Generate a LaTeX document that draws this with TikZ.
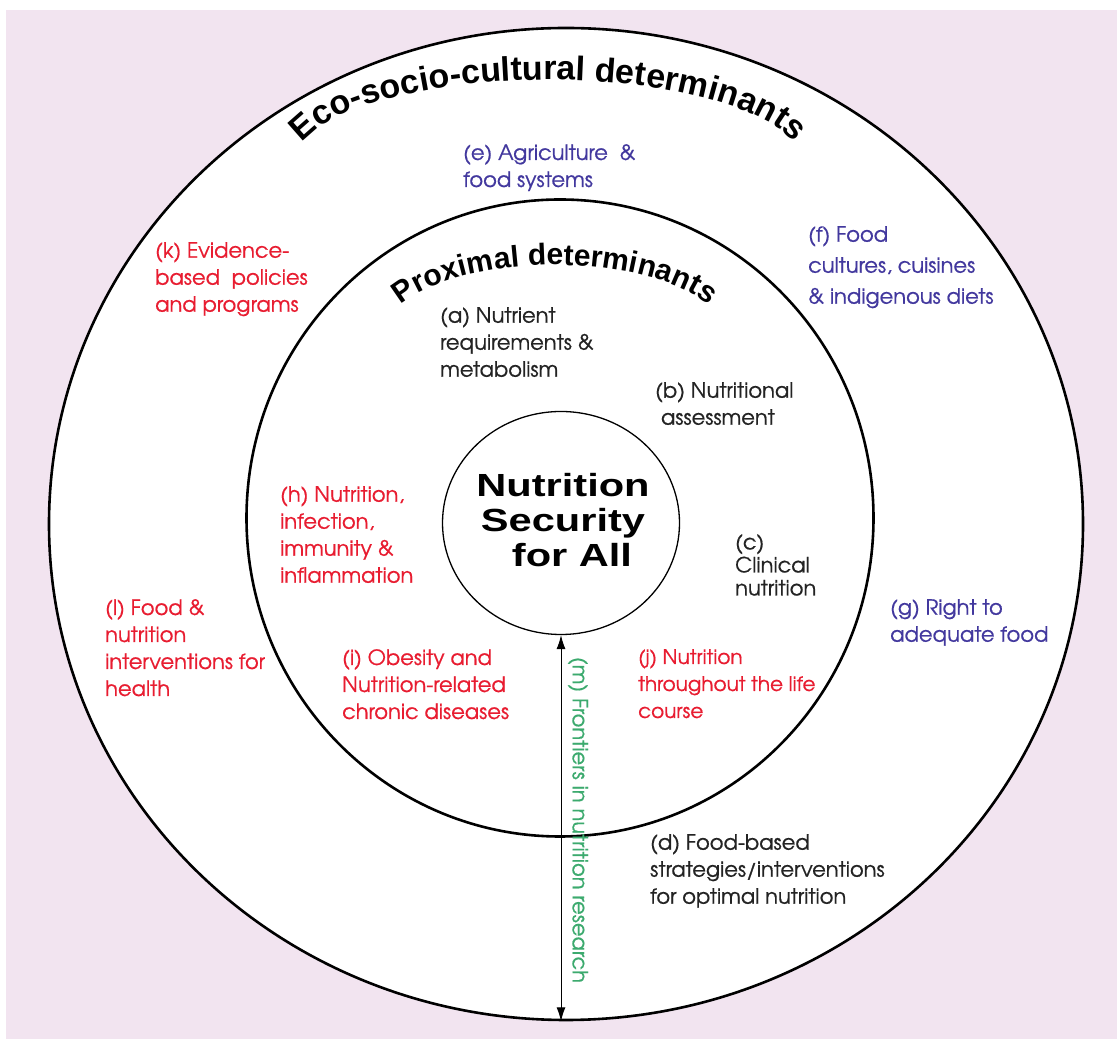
\documentclass[tikz,border=0pt]{standalone}
\usepackage{fontspec}
\usepackage{graphicx}
\setmainfont{TeX Gyre Adventor}[FakeBold=0.6]
\newfontfamily\arial{Liberation Sans}
\usetikzlibrary{shapes.geometric,decorations.text,arrows.meta}
\definecolor{bgpink}{RGB}{242,228,240}
\definecolor{lred}{RGB}{232,28,48}
\definecolor{lblue}{RGB}{66,56,158}
\definecolor{lblack}{RGB}{35,35,35}
\definecolor{lgreen}{RGB}{60,170,110}
\begin{document}
\begin{tikzpicture}[x=1pt,y=1pt,
  ring/.style={draw=black, fill=white, ellipse, inner sep=0pt, line width=2.6pt},
  lbl/.style={anchor=north west, align=left, inner sep=0pt, font=\fontsize{21}{27}\selectfont},
  redlbl/.style={lbl, text=lred},
  bluelbl/.style={lbl, text=lblue},
  blacklbl/.style={lbl, text=lblack},
  arctext/.style={decorate, decoration={text along path, text align=center,
     text format delimiters={|}{|}}}
]
\useasboundingbox (0,0) rectangle (1117,1039);
\fill[white] (0,0) rectangle (1117,1039);
\fill[bgpink] (6,0) rectangle (1117,1029);

% rings
\node[ring, minimum width=1034pt, minimum height=992pt] (outer) at (566,515) {};
\node[ring, minimum width=627pt, minimum height=637pt] (inner) at (560,521) {};
\node[draw=black, fill=white, ellipse, inner sep=0pt, line width=1.3pt,
      minimum width=237pt, minimum height=223pt] (core) at (561,516) {};

% curved titles
\path[arctext, decoration={text={|\arial\bfseries\fontsize{34}{34}\selectfont|Eco-socio-cultural determinants}}]
  (296.9,888.8) arc[start angle=170, end angle=10, x radius=255, y radius=85];
\path[arctext, decoration={text={|\arial\bfseries\fontsize{30}{30}\selectfont|Proximal determinants}}]
  (395,727.7) arc[start angle=160.2, end angle=19.8, x radius=170, y radius=70];

% centre
\node[font=\arial\bfseries\fontsize{32}{35}\selectfont, align=center, text=black] (title) at (563,519)
  {\scalebox{1.3}[1]{Nutrition}\\\scalebox{1.3}[1]{Security}\\\hspace*{18pt}\scalebox{1.3}[1]{for All}};

% labels
\node[bluelbl] (e) at (463,895) {(e) Agriculture\ \ \&\\food systems};
\node[bluelbl, font=\fontsize{21}{31}\selectfont] (f) at (808,813) {(f) Food\\cultures, cuisines\\\& indigenous diets};
\node[redlbl] (k) at (155,797) {(k) Evidence-\\based\ \ policies\\and programs};
\node[blacklbl] (a) at (440,732) {(a) Nutrient\\requirements \&\\metabolism};
\node[blacklbl] (b) at (655,657) {(b) Nutritional\\\ assessment};
\node[redlbl] (h) at (280,553) {(h) Nutrition,\\infection,\\immunity \&\\inflammation};
\node[blacklbl, font=\fontsize{21}{23}\selectfont] (c) at (735,505) {(c)\\Clinical\\nutrition};
\node[bluelbl] (g) at (890,440) {(g) Right to\\adequate food};
\node[redlbl] (l) at (105,440) {(l) Food \&\\nutrition\\interventions for\\health};
\node[redlbl] (i) at (342,390) {(i) Obesity and\\Nutrition-related\\chronic diseases};
\node[redlbl, font=\fontsize{20}{27}\selectfont] (j) at (638,390) {(j) Nutrition\\throughout the life\\course};
\node[blacklbl] (d) at (650,205) {(d) Food-based\\strategies/interventions\\for optimal nutrition};

% frontier arrow
\draw[line width=1pt, {Latex[length=14pt,width=9pt]}-{Latex[length=14pt,width=9pt]}]
  (core.south) -- (core.south |- outer.south);
\node[text=lgreen, font=\fontsize{21}{21}\selectfont, rotate=-90] (m) at (578,219)
  {(m) Frontiers in nutrition research};
\end{tikzpicture}
\end{document}
